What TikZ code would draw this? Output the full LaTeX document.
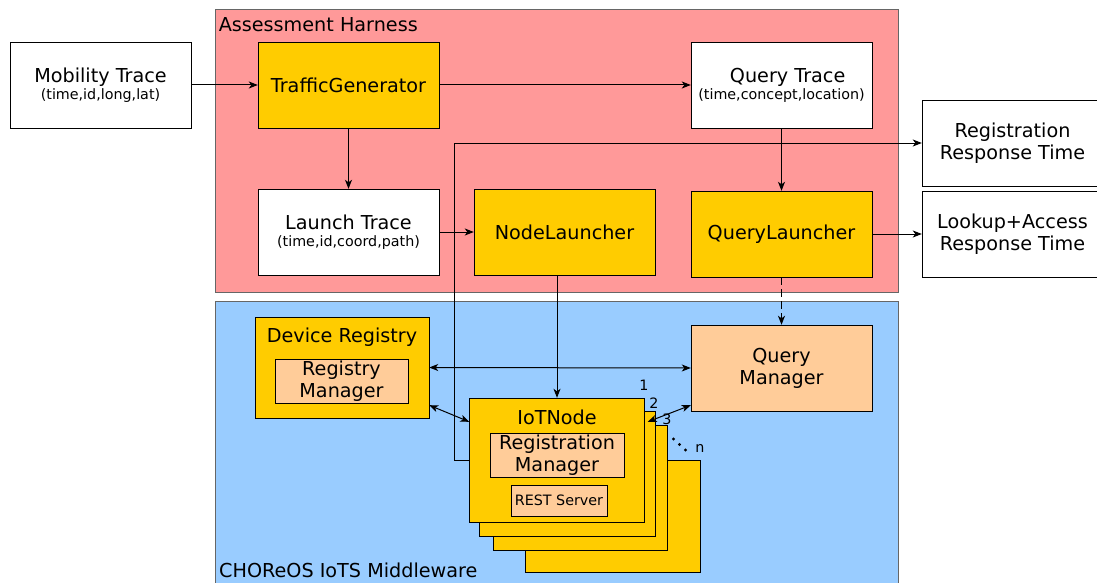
\documentclass[tikz,border=0pt]{standalone}
\usepackage{fontspec}
\setmainfont{DejaVu Sans}
\usepackage{tikz}
\usetikzlibrary{arrows.meta}
\definecolor{harnessred}{HTML}{FF9999}
\definecolor{middleblue}{HTML}{99CCFF}
\definecolor{toolgold}{HTML}{FFCC00}
\definecolor{peach}{HTML}{FFCC99}
\tikzstyle{box} = [rectangle, draw, minimum width=181pt, minimum height=86pt, inner sep=0pt, align=center]
\tikzstyle{trace} = [box, fill=white]
\tikzstyle{tool} = [box, fill=toolgold]
\tikzstyle{manager} = [rectangle, draw, fill=peach, align=center, inner sep=0pt]
\tikzstyle{node stack} = [rectangle, draw, fill=toolgold, minimum width=175pt, minimum height=124pt]
\tikzstyle{layer} = [rectangle, draw=black!60, line width=0.9pt, inner sep=0pt]
\tikzstyle{flow} = [-{Stealth[length=9pt,width=7pt,inset=2.5pt]}, line width=1pt]
\tikzstyle{twoway} = [{Stealth[length=9pt,width=7pt,inset=2.5pt]}-{Stealth[length=9pt,width=7pt,inset=2.5pt]}, line width=1pt]
\newcommand{\sm}[1]{{\fontsize{14.3}{16}\selectfont #1}}

\begin{document}
\begin{tikzpicture}[x=1pt, y=-1pt, font=\fontsize{19.2}{22}\selectfont]
\useasboundingbox (0,0) rectangle (1097,583);
%\draw[help lines] (0,0) grid (1097,583);
% layers
\node[layer, fill=harnessred, minimum width=683pt, minimum height=283pt] (harness) at (556.5,150.5) {};
\node[layer, fill=middleblue, minimum width=683pt, minimum height=289pt] (middleware) at (556.5,445.5) {};
\node[anchor=north west, inner sep=0pt] (harnesstitle) at ([xshift=4pt,yshift=-9pt]harness.north west) {Assessment Harness};
\node[anchor=base west, inner sep=0pt] (middletitle) at (219,577) {CHOReOS IoTS Middleware};

% assessment harness
\node[trace] (mobility) at (100.5,85) {Mobility Trace\\[-5pt]\sm{(time,id,long,lat)}};
\node[tool] (trafficgen) at (348.5,85) {TrafficGenerator};
\node[trace] (querytrace) at (781.5,85) {\ \ Query Trace\\[-5pt]\sm{(time,concept,location)}};
\node[trace] (launchtrace) at (348.5,232) {Launch Trace\\[-5pt]\sm{(time,id,coord,path)}};
\node[tool] (nodelauncher) at (564.5,232) {NodeLauncher};
\node[tool] (querylauncher) at (781.5,234) {QueryLauncher};
\node[trace] (regtime) at (1012.5,143) {Registration\\Response Time};
\node[trace] (lookuptime) at (1012.5,234) {Lookup+Access\\Response Time};

% middleware
\node[rectangle, draw, fill=toolgold, minimum width=174pt, minimum height=101pt] (devreg) at (342,367.5) {};
\node[anchor=north, inner sep=0pt] (devregtitle) at ([yshift=-11pt]devreg.north) {Device Registry};
\node[manager, minimum width=133pt, minimum height=44pt] (regmgr) at (341.5,381) {Registry\\Manager};
\node[manager, minimum width=181pt, minimum height=86pt] (querymgr) at (781.5,368) {Query\\Manager};

\node[node stack, minimum width=175pt, minimum height=112pt] (iot4) at (612.5,516) {};
\node[node stack, minimum width=174pt, minimum height=125pt] (iot3) at (580,487.5) {};
\node[node stack, minimum width=176pt, minimum height=125pt] (iot2) at (567,473.5) {};
\node[node stack] (iot1) at (557,460) {};
\node[anchor=north, inner sep=0pt] (iottitle) at ([yshift=-12pt]iot1.north) {IoTNode};
\node[manager, minimum width=134pt, minimum height=44pt] (iotregmgr) at (557,455) {Registration\\Manager};
\node[manager, minimum width=96pt, minimum height=31pt] (rest) at (559,500.5) {\sm{REST Server}};

\node (one) at (644,385) {\sm{1}};
\node (two) at (654,403) {\sm{2}};
\node (three) at (667,419) {\sm{3}};
\node (nn) at (700,448) {\sm{n}};
% dots between 3 and n
\fill (673.5,439) circle (1.6) (679.5,444.5) circle (1.6) (685.5,450) circle (1.6);

% connectors
\draw[flow] (mobility) -- (trafficgen);
\draw[flow] (trafficgen) -- (querytrace);
\draw[flow] (trafficgen) -- (launchtrace);
\draw[flow] (launchtrace) -- (nodelauncher);
\draw[flow] (querytrace) -- (querylauncher);
\draw[flow] (querylauncher) -- (lookuptime);
\draw[flow, line width=1.5pt, dash pattern=on 8pt off 4pt] (querylauncher) -- (querymgr);
\draw[flow] (nodelauncher.south -| iot1.north) -- (iot1.north);
\draw[twoway] (devreg.east) -- (querymgr.west);
\draw[twoway] ([yshift=13pt]devreg.south east) -- ([yshift=-24pt]iot1.north west);
\draw[twoway] ([yshift=6pt]querymgr.south west) -- ([xshift=3pt,yshift=-24pt]iot1.north east);
\draw[flow] (iot1.west) -- ++(-15,0) |- (regtime.west);
\end{tikzpicture}
\end{document}
